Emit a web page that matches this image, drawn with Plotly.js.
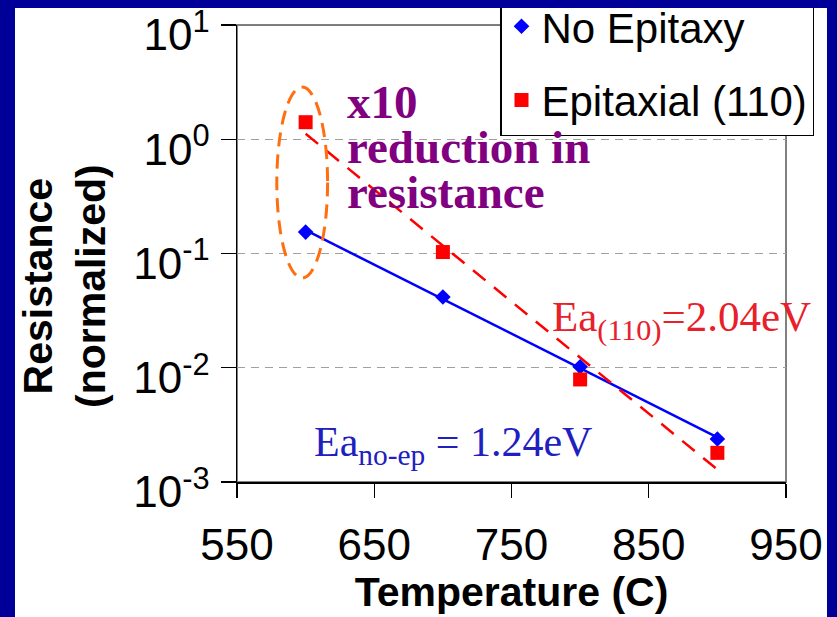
<!DOCTYPE html>
<html>
<head>
<meta charset="utf-8">
<script src="https://cdn.plot.ly/plotly-3.0.1.min.js"></script>
<style>
  html, body { margin: 0; padding: 0; background: #000099; width: 837px; height: 617px; overflow: hidden; }
  #chart { position: absolute; left: 15px; top: 8px; width: 812px; height: 609px; background: #ffffff; }
</style>
</head>
<body>
<div id="chart"></div>
<script>
// Annealing temperature (C)
const temperature = [600, 700, 800, 900];
// Normalized resistance per sample type
const noEpitaxy = [0.154, 0.0416, 0.0102, 0.00238];
const epitaxial110 = [1.41, 0.103, 0.0079, 0.0018];

const xTicks = [550, 650, 750, 850, 950];
const yTicks = [0.001, 0.01, 0.1, 1, 10];
const yTickText = ['10<sup>-3</sup>', '10<sup>-2</sup>', '10<sup>-1</sup>', '10<sup>0</sup>', '10<sup>1</sup>'];

// Exponential trendline: least-squares fit of log10(R) against T
function expTrend(xs, ys) {
  const ly = ys.map(v => Math.log10(v));
  const n = xs.length;
  const mx = xs.reduce((a, b) => a + b, 0) / n;
  const my = ly.reduce((a, b) => a + b, 0) / n;
  let sxy = 0, sxx = 0;
  for (let i = 0; i < n; i++) {
    sxy += (xs[i] - mx) * (ly[i] - my);
    sxx += (xs[i] - mx) * (xs[i] - mx);
  }
  const slope = sxy / sxx;
  return xs.map(x => Math.pow(10, my + slope * (x - mx)));
}

const W = 812, H = 609;
const M = { l: 222, r: 41, t: 17, b: 135 };
const pw = W - M.l - M.r, ph = H - M.t - M.b;
const px = x => (x - M.l) / pw;          // pixel -> paper x
const py = y => (H - M.b - y) / ph;      // pixel -> paper y

const serif = 'Liberation Serif, Times New Roman, serif';
const sans = 'Liberation Sans, Arial, sans-serif';

const traces = [
  {
    x: temperature, y: expTrend(temperature, noEpitaxy),
    mode: 'lines', line: { color: '#0000FF', width: 2.5 },
    showlegend: false, hoverinfo: 'skip'
  },
  {
    x: temperature, y: expTrend(temperature, epitaxial110),
    mode: 'lines', line: { color: '#FF0000', width: 2.5, dash: '16px,11px' },
    showlegend: false, hoverinfo: 'skip'
  },
  {
    x: temperature, y: noEpitaxy, name: 'No Epitaxy',
    mode: 'markers', legendgroup: 'a',
    marker: { symbol: 'diamond', color: '#0000FF', size: 12 }
  },
  {
    x: temperature, y: epitaxial110, name: 'Epitaxial (110)',
    mode: 'markers', legendgroup: 'b',
    marker: { symbol: 'square', color: '#FF0000', size: 14 }
  }
];

const layout = {
  width: W, height: H,
  margin: { l: M.l, r: M.r, t: M.t, b: M.b, autoexpand: false },
  paper_bgcolor: '#ffffff', plot_bgcolor: '#ffffff',
  font: { family: sans, color: '#000000' },
  xaxis: {
    range: [550, 950], autorange: false, tickvals: xTicks, ticktext: xTicks.map(String),
    showline: true, linecolor: '#000000', linewidth: 1.5,
    ticks: 'outside', ticklen: 14, tickwidth: 1.2, tickcolor: '#000000',
    showgrid: false, zeroline: false,
    tickfont: { family: sans, size: 44, color: '#000000' },
    ticklabelstandoff: 10,
    title: { text: '<b>Temperature (C)</b>', font: { family: sans, size: 41, color: '#000000' }, standoff: 5 }
  },
  yaxis: {
    type: 'log', range: [-3, 1.0001], autorange: false, tickvals: yTicks, ticktext: yTickText,
    showline: true, linecolor: '#000000', linewidth: 1.5,
    ticks: 'outside', ticklen: 15, tickwidth: 1.2, tickcolor: '#000000',
    showgrid: true, gridcolor: '#a0a0a0', gridwidth: 1, griddash: '8px,6px',
    zeroline: false,
    tickfont: { family: sans, size: 44, color: '#000000' },
    ticklabelshift: 10, ticklabelstandoff: 2, ticklabeloverflow: 'allow'
  },
  legend: {
    x: px(485), xanchor: 'left', y: py(128), yanchor: 'bottom',
    bgcolor: '#ffffff', bordercolor: '#000000', borderwidth: 1.5,
    font: { family: sans, size: 42, color: '#000000' },
    traceorder: 'grouped', tracegroupgap: 16
  },
  shapes: [
    // gray frame round the plot area (the black axis lines sit on top of its left and bottom edges)
    { type: 'rect', xref: 'paper', yref: 'paper', x0: 0, x1: 1, y0: 0, y1: 1, layer: 'below',
      fillcolor: 'rgba(0,0,0,0)', line: { color: '#808080', width: 2 } },
    // top edge of the frame, along the 10^1 level
    { type: 'line', xref: 'x', yref: 'y', x0: 550, x1: 950, y0: 10, y1: 10, layer: 'above',
      line: { color: '#7a7a7a', width: 2 } },
    // dashed ellipse around the 600 C pair
    { type: 'circle', xref: 'x', yref: 'y', x0: 579, x1: 616, y0: 0.061, y1: 2.86,
      line: { color: '#FF6F10', width: 3, dash: '14px,8px' } }
  ],
  annotations: [
    { text: '<b>Resistance<br>(normalized)</b>', textangle: -90, xref: 'paper', yref: 'paper',
      x: px(49), y: py(278), xanchor: 'center', yanchor: 'middle', showarrow: false,
      font: { family: sans, size: 41, color: '#000000' } },
    { text: '<b>x10</b>', xref: 'paper', yref: 'paper', x: px(330), y: py(94),
      xanchor: 'left', yanchor: 'middle', showarrow: false,
      font: { family: serif, size: 47, color: '#800080' } },
    { text: '<b>reduction in</b>', xref: 'paper', yref: 'paper', x: px(330), y: py(139),
      xanchor: 'left', yanchor: 'middle', showarrow: false,
      font: { family: serif, size: 47, color: '#800080' } },
    { text: '<b>resistance</b>', xref: 'paper', yref: 'paper', x: px(330), y: py(184),
      xanchor: 'left', yanchor: 'middle', showarrow: false,
      font: { family: serif, size: 47, color: '#800080' } },
    { text: 'Ea<sub>(110)</sub>=2.04eV', xref: 'paper', yref: 'paper', x: px(535), y: py(312),
      xanchor: 'left', yanchor: 'middle', showarrow: false,
      font: { family: serif, size: 43, color: '#E8202A' } },
    { text: 'Ea<sub>no-ep</sub> = 1.24eV', xref: 'paper', yref: 'paper', x: px(297), y: py(437),
      xanchor: 'left', yanchor: 'middle', showarrow: false,
      font: { family: serif, size: 42, color: '#2020C0' } }
  ]
};

Plotly.newPlot('chart', traces, layout, { displayModeBar: false, staticPlot: true });
</script>
</body>
</html>
